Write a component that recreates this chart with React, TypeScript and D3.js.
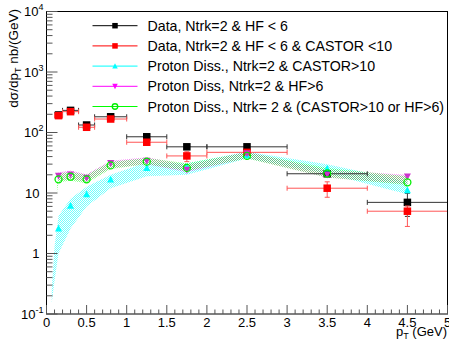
import React from "react";
import * as d3 from "d3";

const W = 449;
const H = 344;

// data bins
const xCenters = [0.15, 0.3, 0.5, 0.8, 1.25, 1.75, 2.5, 3.5, 4.5];
const xLow = [0.1, 0.2, 0.4, 0.6, 1.0, 1.5, 2.0, 3.0, 4.0];
const xHigh = [0.2, 0.4, 0.6, 1.0, 1.5, 2.0, 3.0, 4.0, 5.0];

const blackVals = [195, 232, 133, 182, 85, 58, 58, 20.8, 7.0];
const blackErr = [6, 8, 5, 8, 4, 3, 3, 2, 2.9];
const redVals = [190, 221, 122, 167, 69, 41, 47, 12, 5.0];
const redErrLo = [8, 10, 6, 8, 5, 8, 5, 3.5, 2.2];
const redErrHi = [8, 10, 6, 8, 5, 7, 5, 3.3, 1.1];

const cyanVals = [2.6, 6.2, 9.6, 16.8, 26, 27, 42, 25.6, 11.2];
const magentaVals = [19.1, 20.1, 17.7, 31, 34, 24, 45, 19.9, 18.6];
const greenVals = [16.8, 18.6, 16.8, 28.6, 33, 26, 41, 21, 15];

// MC uncertainty bands
const cyanBandX = [0.065, 0.1, 0.15, 0.3, 0.5, 0.8, 1.25, 1.75, 2.5, 3.5, 4.5];
const cyanBandLo = [0.15, 0.35, 1.0, 2.6, 6, 12, 19, 20, 37, 21, 9.5];
const cyanBandHi = [0.25, 1.3, 4.2, 8, 12.7, 20, 32, 31, 48, 30, 15.5];

const magentaBandX = [0.15, 0.3, 0.5, 0.8, 1.25, 1.75, 2.5, 3.5, 4.5];
const magentaBandLo = [16, 17, 15.5, 26, 30, 22, 38, 18, 14];
const magentaBandHi = [22, 23.5, 20.5, 34, 39, 29, 48, 24, 20];

const greenBandX = [0.13, 0.15, 0.3, 0.5, 0.8, 1.25, 1.75, 2.5, 3.5, 4.5];
const greenBandLo = [10, 15, 16, 14.5, 25, 30, 23, 37, 18, 13.5];
const greenBandHi = [13, 21, 22.5, 20, 33, 38, 31, 47, 26, 19];

const xTicks = [0, 0.5, 1, 1.5, 2, 2.5, 3, 3.5, 4, 4.5, 5];
const xTickLabels = ["0", "0.5", "1", "1.5", "2", "2.5", "3", "3.5", "4", "4.5", "5"];
const yDecades = [-1, 0, 1, 2, 3, 4];

const legendLabels = [
  "Data, Ntrk=2 & HF < 6",
  "Data, Ntrk=2 & HF < 6 & CASTOR <10",
  "Proton Diss., Ntrk=2 & CASTOR>10",
  "Proton Diss, Ntrk=2 & HF>6",
  "Proton Diss., Ntrk= 2 & (CASTOR>10 or HF>6)",
];
const legendColors = ["#000000", "#ff0000", "#00ffff", "#ff00ff", "#00ff00"];
const legendMarkers = ["square", "square", "tri", "tridown", "circle"];

const FONT = "'Liberation Sans', Arial, Helvetica, sans-serif";

const xScale = d3.scaleLinear().domain([0, 5]).range([46.5, 447.5]);
const yScale = d3.scaleLog().domain([0.1, 10000]).range([314, 11.5]);

function Marker({ kind, x, y, color, s }: { kind: string; x: number; y: number; color: string; s: number }) {
  if (kind === "square") {
    return <rect x={x - s / 2} y={y - s / 2} width={s} height={s} fill={color} />;
  }
  if (kind === "tri") {
    const h = s * 0.9;
    return (
      <path d={`M${x},${y - h / 2 - 0.5}L${x + s / 2},${y + h / 2}L${x - s / 2},${y + h / 2}Z`} fill={color} />
    );
  }
  if (kind === "tridown") {
    const h = s * 0.9;
    return (
      <path d={`M${x},${y + h / 2 + 0.5}L${x + s / 2},${y - h / 2}L${x - s / 2},${y - h / 2}Z`} fill={color} />
    );
  }
  return <circle cx={x} cy={y} r={s / 2} fill="none" stroke={color} strokeWidth={1.3} />;
}

function bandPath(xs: number[], lo: number[], hi: number[]) {
  const pts = xs.map((x, i) => ({ x, lo: lo[i], hi: hi[i] }));
  const area = d3
    .area<{ x: number; lo: number; hi: number }>()
    .x((d) => xScale(d.x))
    .y0((d) => yScale(d.lo))
    .y1((d) => yScale(d.hi));
  return area(pts) || "";
}

function DataSeries({
  vals,
  lo,
  hi,
  color,
  barColor,
}: {
  vals: number[];
  lo: number[];
  hi: number[];
  color: string;
  barColor: string;
}) {
  return (
    <g>
      {vals.map((v, i) => {
        const cx = xScale(xCenters[i]);
        const cy = yScale(v);
        const x1 = xScale(xLow[i]);
        const x2 = xScale(xHigh[i]);
        const yT = yScale(v + hi[i]);
        const yB = yScale(Math.max(v - lo[i], 0.11));
        return (
          <g key={i} stroke={barColor} strokeWidth={1}>
            <line x1={x1} x2={x2} y1={cy} y2={cy} />
            <line x1={x1} x2={x1} y1={cy - 2.5} y2={cy + 2.5} />
            <line x1={x2} x2={x2} y1={cy - 2.5} y2={cy + 2.5} />
            <line x1={cx} x2={cx} y1={yT} y2={yB} />
            <line x1={cx - 2.5} x2={cx + 2.5} y1={yT} y2={yT} />
            <line x1={cx - 2.5} x2={cx + 2.5} y1={yB} y2={yB} />
          </g>
        );
      })}
      {vals.map((v, i) => (
        <Marker key={"m" + i} kind="square" x={xScale(xCenters[i])} y={yScale(v)} color={color} s={7.5} />
      ))}
    </g>
  );
}

export default function App() {
  const minorX: number[] = [];
  for (let i = 0; i <= 50; i++) minorX.push(i / 10);
  const minorY: number[] = [];
  for (let k = -1; k < 4; k++) for (let m = 2; m <= 9; m++) minorY.push(m * Math.pow(10, k));

  const left = xScale(0);
  const right = xScale(5);
  const top = yScale(10000);
  const bottom = yScale(0.1);

  return (
    <svg width={W} height={H} style={{ position: "absolute", left: 0, top: 0, background: "#fff" }} fontFamily={FONT}>
      <defs>
        {[
          ["patCyan", "#00ffff"],
          ["patMagenta", "#ff00ff"],
          ["patGreen", "#00ff00"],
        ].map(([id, c]) => (
          <pattern key={id} id={id} width={2} height={2} patternUnits="userSpaceOnUse">
            <rect x={0} y={0} width={1} height={1} fill={c} />
            <rect x={1} y={1} width={1} height={1} fill={c} />
          </pattern>
        ))}
        <clipPath id="frameClip">
          <rect x={left} y={top} width={right - left} height={bottom - top} />
        </clipPath>
      </defs>
      <rect width={W} height={H} fill="#fff" />

      <g clipPath="url(#frameClip)">
        <path d={bandPath(cyanBandX, cyanBandLo, cyanBandHi)} fill="url(#patCyan)" opacity={0.55} />
        <path d={bandPath(magentaBandX, magentaBandLo, magentaBandHi)} fill="url(#patMagenta)" opacity={0.45} />
        <path d={bandPath(greenBandX, greenBandLo, greenBandHi)} fill="url(#patGreen)" opacity={0.45} />

        <DataSeries vals={blackVals} lo={blackErr} hi={blackErr} color="#000" barColor="#333" />
        <DataSeries vals={redVals} lo={redErrLo} hi={redErrHi} color="#ff0000" barColor="#ff5555" />

        {cyanVals.map((v, i) => (
          <Marker key={"c" + i} kind="tri" x={xScale(xCenters[i])} y={yScale(v)} color="#00ffff" s={7} />
        ))}
        {magentaVals.map((v, i) => (
          <Marker key={"mg" + i} kind="tridown" x={xScale(xCenters[i])} y={yScale(v)} color="#cc33cc" s={7} />
        ))}
        {greenVals.map((v, i) => (
          <Marker key={"g" + i} kind="circle" x={xScale(xCenters[i])} y={yScale(v)} color="#00ee00" s={7} />
        ))}
      </g>

      {/* frame */}
      <rect x={left} y={top} width={right - left} height={bottom - top} fill="none" stroke="#000" strokeWidth={1} />

      {/* x ticks */}
      {minorX.map((t, i) => {
        const major = i % 5 === 0;
        return (
          <line
            key={"xt" + i}
            x1={xScale(t)}
            x2={xScale(t)}
            y1={bottom}
            y2={bottom - (major ? 9 : 4.5)}
            stroke="#555"
          />
        );
      })}
      {xTicks.map((t, i) => (
        <text key={"xl" + i} x={xScale(t)} y={327} fontSize={13} textAnchor="middle" fill="#000">
          {xTickLabels[i]}
        </text>
      ))}

      {/* y ticks */}
      {yDecades.map((k) => (
        <line
          key={"yd" + k}
          x1={left}
          x2={left + 11}
          y1={yScale(Math.pow(10, k))}
          y2={yScale(Math.pow(10, k))}
          stroke="#555"
        />
      ))}
      {minorY.map((v, i) => (
        <line key={"ym" + i} x1={left} x2={left + 6} y1={yScale(v)} y2={yScale(v)} stroke="#555" />
      ))}
      {yDecades.map((k) => {
        const y = yScale(Math.pow(10, k)) + 4.5;
        if (k === 0)
          return (
            <text key={"yl" + k} x={39.5} y={y} fontSize={13} textAnchor="end">
              1
            </text>
          );
        if (k === 1)
          return (
            <text key={"yl" + k} x={39.5} y={y} fontSize={13} textAnchor="end">
              10
            </text>
          );
        return (
          <text key={"yl" + k} x={43.5} y={y} fontSize={13} textAnchor="end">
            10
            <tspan fontSize={9} dy={-6}>
              {String(k)}
            </tspan>
          </text>
        );
      })}

      {/* axis titles */}
      <text transform="translate(18,9) rotate(-90)" fontSize={13.5} textAnchor="end">
        dσ/dp
        <tspan fontSize={9} dy={3}>
          T
        </tspan>
        <tspan dy={-3}> nb/(GeV)</tspan>
      </text>
      <text x={447} y={336} fontSize={13} textAnchor="end">
        p
        <tspan fontSize={9} dy={3}>
          T
        </tspan>
        <tspan dy={-3}> (GeV)</tspan>
      </text>

      {/* legend */}
      {legendLabels.map((lab, i) => {
        const y = 25.7 + i * 20.2;
        return (
          <g key={"lg" + i}>
            <line x1={92.5} x2={137.5} y1={y} y2={y} stroke={legendColors[i]} strokeWidth={1} />
            <Marker
              kind={legendMarkers[i]}
              x={115}
              y={y}
              color={i === 3 ? "#ff00ff" : i === 4 ? "#00ee00" : legendColors[i]}
              s={5.5}
            />
            <text x={147.5} y={y + 5} fontSize={14.2} fill="#000">
              {lab}
            </text>
          </g>
        );
      })}
    </svg>
  );
}
